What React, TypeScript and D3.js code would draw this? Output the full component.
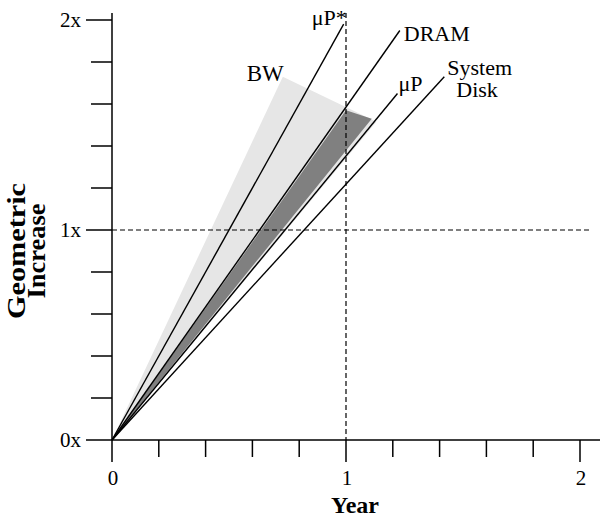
import React, { useEffect, useRef } from 'react'
import * as d3 from 'd3'

// trend lines, from the origin to their end point (year, geometric increase)
const lineNames = ['μP*', 'DRAM', 'μP', 'System']
const lineEndYears = [0.99, 1.23, 1.22, 1.42]
const lineEndValues = [1.98, 1.95, 1.65, 1.73]

// shaded bands (year, increase)
const bwYears = [0, 0.73, 1.13]
const bwValues = [0, 1.73, 1.515]
const darkYears = [0, 1.0, 1.11]
const darkValues = [0, 1.57, 1.53]

const xTicks = [0, 0.2, 0.4, 0.6, 0.8, 1, 1.2, 1.4, 1.6, 1.8, 2]
const yTicks = [0, 0.2, 0.4, 0.6, 0.8, 1, 1.2, 1.4, 1.6, 1.8, 2]
const xLabels = ['0', '1', '2']
const yLabels = ['0x', '1x', '2x']

const FONT = '"Liberation Serif", "Times New Roman", serif'

const App: React.FC = () => {
  const ref = useRef<SVGSVGElement | null>(null)

  useEffect(() => {
    if (!ref.current) return
    const svg = d3.select(ref.current)
    svg.selectAll('*').remove()

    const x = d3.scaleLinear().domain([0, 2]).range([112, 580])
    const y = d3.scaleLinear().domain([0, 2]).range([440, 20])
    const major = (v: number) => Math.abs(v - Math.round(v)) < 1e-6

    const poly = d3.line<[number, number]>()
      .x(d => x(d[0]))
      .y(d => y(d[1]))
      .curve(d3.curveLinearClosed)

    // light BW band
    svg.append('path')
      .attr('d', poly(bwYears.map((v, i) => [v, bwValues[i]]) as [number, number][]))
      .attr('fill', '#e6e6e6')

    // dark band
    svg.append('path')
      .attr('d', poly(darkYears.map((v, i) => [v, darkValues[i]]) as [number, number][]))
      .attr('fill', '#808080')

    // dashed reference lines
    svg.append('line')
      .attr('x1', x(0)).attr('x2', 590)
      .attr('y1', y(1)).attr('y2', y(1))
      .attr('stroke', '#000').attr('stroke-width', 1.2)
      .attr('stroke-dasharray', '5,3')
    svg.append('line')
      .attr('x1', x(1)).attr('x2', x(1))
      .attr('y1', 13).attr('y2', y(0))
      .attr('stroke', '#000').attr('stroke-width', 1.2)
      .attr('stroke-dasharray', '5,3')

    // trend lines
    lineNames.forEach((name, i) => {
      svg.append('line')
        .attr('x1', x(0)).attr('y1', y(0))
        .attr('x2', x(lineEndYears[i])).attr('y2', y(lineEndValues[i]))
        .attr('stroke', '#000').attr('stroke-width', 1.4)
    })

    // axes
    const axis = svg.append('g').attr('stroke', '#000').attr('stroke-width', 1.5)
    axis.append('line').attr('x1', x(0)).attr('x2', x(0)).attr('y1', 13).attr('y2', y(0))
    axis.append('line').attr('x1', x(0)).attr('x2', 600).attr('y1', y(0)).attr('y2', y(0))

    yTicks.forEach(t => {
      axis.append('line')
        .attr('x1', major(t) ? 86 : 91).attr('x2', x(0))
        .attr('y1', y(t)).attr('y2', y(t))
    })
    xTicks.forEach(t => {
      axis.append('line')
        .attr('x1', x(t)).attr('x2', x(t))
        .attr('y1', y(0)).attr('y2', y(0) + (major(t) ? 22 : 17))
    })

    const text = (tx: number, ty: number, s: string, anchor = 'start', size = 22, weight = 'normal') =>
      svg.append('text')
        .attr('x', tx).attr('y', ty)
        .attr('text-anchor', anchor)
        .attr('font-family', FONT)
        .attr('font-size', size)
        .attr('font-weight', weight)
        .text(s)

    yLabels.forEach((l, i) => text(81, y(i) + 7, l, 'end', 21))
    xLabels.forEach((l, i) => text(x(i) + 1, 485, l, 'middle', 21))

    text(355, 513, 'Year', 'middle', 24, 'bold')

    const yl = svg.append('text')
      .attr('transform', 'translate(25, 251) rotate(-90)')
      .attr('text-anchor', 'middle')
      .attr('font-family', FONT)
      .attr('font-size', 26)
      .attr('font-weight', 'bold')
    yl.append('tspan').attr('x', 0).attr('y', 0)
      .attr('textLength', 136).attr('lengthAdjust', 'spacingAndGlyphs').text('Geometric')
    yl.append('tspan').attr('x', 0).attr('y', 20)
      .attr('textLength', 95).attr('lengthAdjust', 'spacingAndGlyphs').text('Increase')

    // line labels
    text(x(lineEndYears[0]) + 3, y(lineEndValues[0]) + 1, 'μP*', 'end')
    text(x(lineEndYears[1]) + 4, y(lineEndValues[1]) + 10, 'DRAM')
    text(x(lineEndYears[2]) + 1, y(lineEndValues[2]) - 3, 'μP')
    text(x(lineEndYears[3]) + 3, y(lineEndValues[3]) - 2, 'System')
    text(x(lineEndYears[3]) + 12, y(lineEndValues[3]) + 20, 'Disk')
    text(x(bwYears[1]) + 1, y(bwValues[1]) + 4, 'BW', 'end', 23)
  }, [])

  return (
    <svg
      ref={ref}
      width={600}
      height={517}
      style={{ position: 'absolute', left: 0, top: 0, background: '#fff' }}
    />
  )
}

export default App
